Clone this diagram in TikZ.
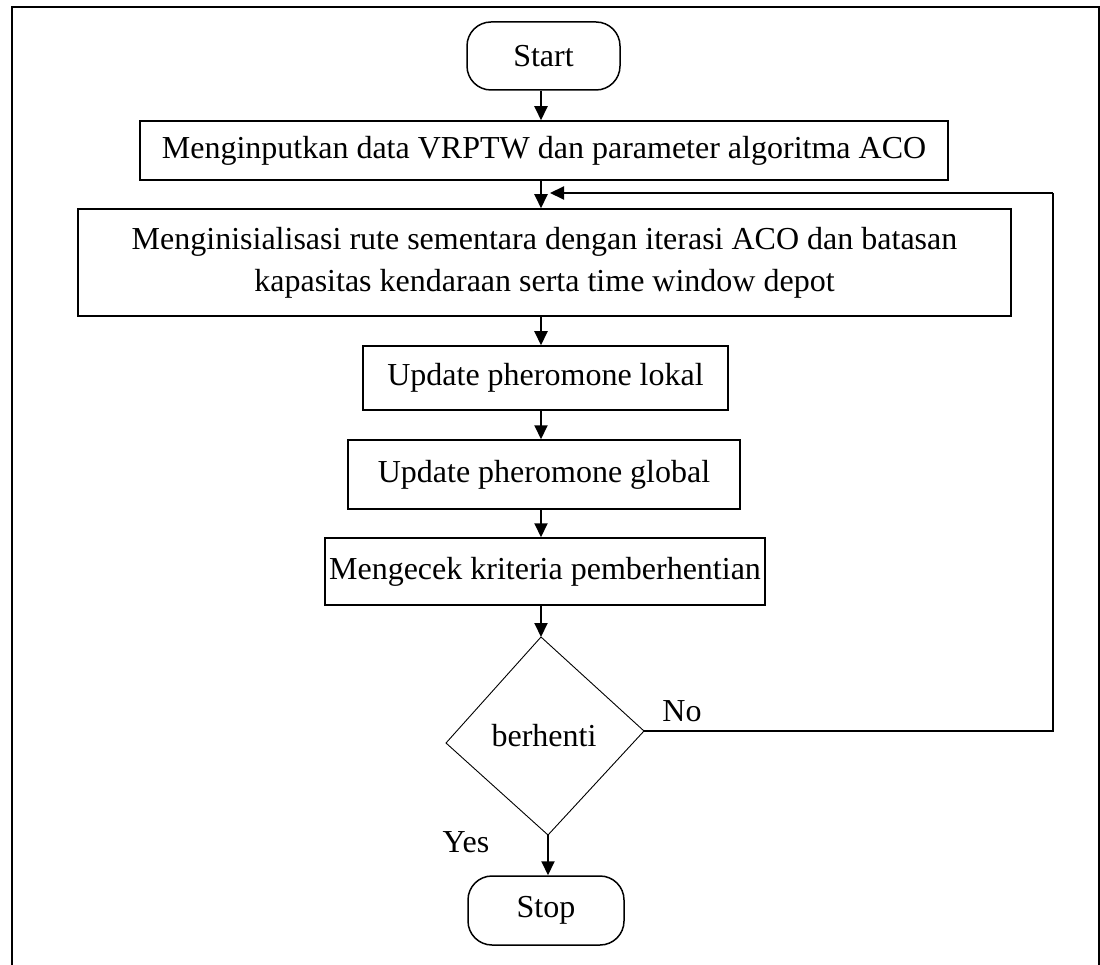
\documentclass[tikz,border=0pt]{standalone}
\usepackage{fontspec}
\setmainfont{Liberation Serif}
\usetikzlibrary{arrows.meta}
\begin{document}
\begin{tikzpicture}[x=1pt,y=-1pt,
  every node/.style={font=\fontsize{32}{40}\selectfont, inner sep=0pt},
  procbox/.style={draw, line width=1.5pt, rectangle, align=center},
  termbox/.style={draw, line width=1.5pt, rectangle, rounded corners=24pt},
  arr/.style={line width=2pt, -{Triangle[length=14pt,width=13pt]}},
  fb/.style={line width=2pt},
  lbl/.style={font=\fontsize{32}{40}\selectfont}]
\useasboundingbox (0,0) rectangle (1100,965);
\draw[line width=1.5pt] (12,970) -- (12,7) -- (1099,7) -- (1099,970);
\coordinate (ax) at (541,0);
\node[termbox, minimum width=153pt, minimum height=68pt] (start) at (543.5,56) {Start};
\node[procbox, minimum width=808pt, minimum height=59pt] (b1) at (544,150.5) {Menginputkan data VRPTW dan parameter algoritma ACO};
\node[procbox, minimum width=933pt, minimum height=107pt] (b2) at (544.5,262.5) {Menginisialisasi rute sementara dengan iterasi ACO dan batasan\\[2pt]kapasitas kendaraan serta time window depot};
\node[procbox, minimum width=365pt, minimum height=64pt] (b3) at (545.5,378) {Update pheromone lokal};
\node[procbox, minimum width=392pt, minimum height=69pt] (b4) at (544,474.5) {Update pheromone global};
\node[procbox, minimum width=440pt, minimum height=67pt] (b5) at (545,571.5) {Mengecek kriteria pemberhentian};
\coordinate (dt) at (541,637);
\coordinate (dl) at (446,743);
\coordinate (dr) at (644,731);
\coordinate (db) at (548,835);
\draw[line width=0.9pt] (dt) -- (dr) -- (db) -- (dl) -- cycle;
\node (dec) at (544,736) {berhenti};
\node[termbox, minimum width=156pt, minimum height=69pt] (stop) at (546,910.5) {Stop};
\draw[arr] (start.south -| ax) -- (b1.north -| ax);
\draw[arr] (b1.south -| ax) -- (b2.north -| ax);
\draw[arr] (b2.south -| ax) -- (b3.north -| ax);
\draw[arr] (b3.south -| ax) -- (b4.north -| ax);
\draw[arr] (b4.south -| ax) -- (b5.north -| ax);
\draw[arr] (b5.south -| ax) -- (dt);
\draw[arr] (db) -- (stop.north -| db);
\coordinate (fr) at (1053,731);
\coordinate (fj) at (550,193);
\draw[fb] (dr) -- (fr) -- (fr |- fj);
\draw[arr] (fr |- fj) -- (fj);
\node[lbl] (no) at (682,711) {No};
\node[lbl] (yes) at (466,842) {Yes};
\end{tikzpicture}
\end{document}
